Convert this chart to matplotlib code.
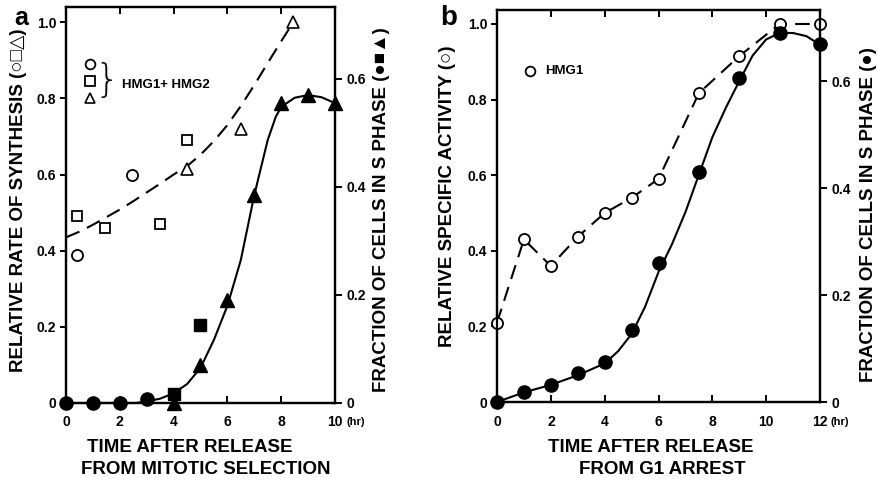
import matplotlib.pyplot as plt

plt.rcParams['font.family'] = ['Liberation Sans', 'DejaVu Sans']
plt.rcParams['font.weight'] = 'bold'

# ---- panel a : HMG1 + HMG2 synthesis after mitotic selection ----
a_circ_x = [0.4, 2.45]
a_circ_y = [0.39, 0.60]
a_sq_x = [0.4, 1.45, 3.5, 4.5]
a_sq_y = [0.49, 0.46, 0.47, 0.69]
a_tri_x = [4.5, 6.5, 8.45]
a_tri_y = [0.615, 0.72, 1.0]
a_fit_x = [0, 0.5, 1, 1.5, 2, 2.5, 3, 3.5, 4, 4.5, 5, 5.5, 6, 6.5, 7, 7.5, 8, 8.45]
a_fit_y = [0.435, 0.45, 0.468, 0.488, 0.508, 0.53, 0.553, 0.576, 0.60, 0.622, 0.652,
           0.688, 0.73, 0.78, 0.835, 0.893, 0.95, 1.0]

# fraction of cells in S phase (right axis)
a_sc_x = [0, 1, 2, 3]
a_sc_y = [0.0, 0.0, 0.0, 0.008]
a_ss_x = [4, 5]
a_ss_y = [0.017, 0.144]
a_st_x = [4, 5, 6, 7, 8, 9, 10]
a_st_y = [0.0, 0.07, 0.19, 0.385, 0.555, 0.57, 0.555]
a_sfit_x = [0, 2.6, 3, 3.5, 4, 4.5, 5, 5.5, 6, 6.5, 7, 7.5, 7.8, 8, 8.5, 9, 9.5, 10]
a_sfit_y = [0, 0, 0.003, 0.008, 0.018, 0.035, 0.065, 0.117, 0.18, 0.265, 0.385, 0.487,
            0.53, 0.548, 0.565, 0.57, 0.566, 0.555]

# ---- panel b : HMG1 after G1 arrest ----
b_t = [0, 1, 2, 3, 4, 5, 6, 7.5, 9, 10.5, 12]
b_hmg1 = [0.21, 0.43, 0.36, 0.437, 0.50, 0.54, 0.59, 0.817, 0.915, 1.0, 1.0]
b_sphase = [0.0, 0.019, 0.032, 0.054, 0.075, 0.135, 0.26, 0.43, 0.605, 0.69, 0.67]
b_sfit_x = [0, 1, 2, 3, 4, 4.5, 5, 5.5, 6, 6.5, 7, 7.5, 8, 8.5, 9, 9.5, 10, 10.5, 11, 11.5, 12]
b_sfit_y = [0, 0.018, 0.032, 0.05, 0.072, 0.095, 0.127, 0.178, 0.243, 0.295, 0.355, 0.425,
            0.495, 0.55, 0.60, 0.648, 0.678, 0.69, 0.69, 0.684, 0.668]

LFS = 13.5   # axis titles
TFS = 10     # tick labels
DASH = (0, (7, 4))
W, H = 878, 482
FAM = ['Liberation Sans', 'DejaVu Sans']

fig = plt.figure(figsize=(8.78, 4.82), dpi=100)


def px_text(x, y, s, **kw):
    # place text by pixel position (from the top-left corner)
    fig.text(x / W, 1 - y / H, s, family=FAM, fontweight='bold', **kw)


def style_axes(ax, ax2, xmax):
    for s in ax.spines.values():
        s.set_linewidth(1.6)
    for s in ax2.spines.values():
        s.set_linewidth(1.6)
    ax.set_xlim(0, xmax)
    ax.set_xticks(range(0, xmax + 1, 2))
    labels = [str(v) for v in range(0, xmax + 1, 2)]
    ax.set_xticklabels(labels, fontsize=TFS, fontweight='bold')
    ax.tick_params(axis='x', direction='in', length=5, width=1.4, top=True, pad=9)
    ax.tick_params(axis='y', direction='out', length=4, width=1.4, pad=3)
    ax2.tick_params(axis='y', direction='out', length=5, width=1.4, pad=3)
    ax.set_yticks([0, 0.2, 0.4, 0.6, 0.8, 1.0])
    ax.set_yticklabels(['0', '0.2', '0.4', '0.6', '0.8', '1.0'], fontsize=TFS, fontweight='bold')
    ax2.set_yticks([0, 0.2, 0.4, 0.6])
    ax2.set_yticklabels(['0', '0.2', '0.4', '0.6'], fontsize=TFS, fontweight='bold')


# panel a
ax = fig.add_axes([66 / W, 1 - 403 / H, 269 / W, 396 / H])
ax2 = ax.twinx()
ax.set_ylim(0, 1.04)
ax2.set_ylim(0, 0.733)
style_axes(ax, ax2, 10)

ax.plot(a_fit_x, a_fit_y, color='black', lw=1.5, linestyle=DASH)
ax.plot(a_circ_x, a_circ_y, 'o', ms=8, mfc='white', mec='black', mew=1.3)
ax.plot(a_sq_x, a_sq_y, 's', ms=7.5, mfc='white', mec='black', mew=1.3)
ax.plot(a_tri_x, a_tri_y, '^', ms=9, mfc='white', mec='black', mew=1.2)

ax2.plot(a_sfit_x, a_sfit_y, color='black', lw=1.5, clip_on=False)
ax2.plot(a_st_x, a_st_y, '^', ms=9.5, color='black', clip_on=False)
ax2.plot(a_sc_x, a_sc_y, 'o', ms=9.5, color='black', clip_on=False)
ax2.plot(a_ss_x, a_ss_y, 's', ms=8.5, color='black', clip_on=False)

# legend a
ax.plot([0.89], [0.89], 'o', ms=7, mfc='white', mec='black', mew=1.3)
ax.plot([0.89], [0.845], 's', ms=6.5, mfc='white', mec='black', mew=1.3)
ax.plot([0.89], [0.80], '^', ms=7.5, mfc='white', mec='black', mew=1.2)
ax.text(1.5, 0.845, '}', fontsize=28, fontweight='light', va='center', ha='center',
        family='DejaVu Sans')
ax.text(2.1, 0.835, 'HMG1+ HMG2', fontsize=9.5, va='center', ha='left', fontweight='bold')

px_text(19, 200, 'RELATIVE RATE OF SYNTHESIS (○□△)', fontsize=LFS, rotation=90,
        ha='center', va='center')
px_text(382, 210, 'FRACTION OF CELLS IN S PHASE (●■▲)', fontsize=LFS, rotation=90,
        ha='center', va='center')
px_text(347, 422, '(hr)', fontsize=8, va='center')
px_text(190, 448, 'TIME AFTER RELEASE', fontsize=LFS, ha='center', va='center')
px_text(206, 470, 'FROM MITOTIC SELECTION', fontsize=LFS, ha='center', va='center')
px_text(21, 18, 'a', fontsize=18, ha='center', va='center')

# panel b
bx = fig.add_axes([497 / W, 1 - 402 / H, 323 / W, 392 / H])
bx2 = bx.twinx()
bx.set_ylim(0, 1.037)
bx2.set_ylim(0, 0.733)
style_axes(bx, bx2, 12)

bx.plot(b_t, b_hmg1, color='black', lw=1.5, linestyle=DASH, clip_on=False)
bx.plot(b_t, b_hmg1, 'o', ms=8, mfc='white', mec='black', mew=1.3, clip_on=False, zorder=4)
bx2.plot(b_sfit_x, b_sfit_y, color='black', lw=1.5, clip_on=False)
bx2.plot(b_t, b_sphase, 'o', ms=9.5, color='black', clip_on=False, zorder=3)

bx.plot([1.23], [0.875], 'o', ms=7, mfc='white', mec='black', mew=1.3)
bx.text(1.8, 0.875, 'HMG1', fontsize=9.5, va='center', ha='left', fontweight='bold')

px_text(448, 196, 'RELATIVE SPECIFIC ACTIVITY (○)', fontsize=LFS, rotation=90,
        ha='center', va='center')
px_text(869, 215, 'FRACTION OF CELLS IN S PHASE (●)', fontsize=LFS, rotation=90,
        ha='center', va='center')
px_text(831, 422, '(hr)', fontsize=8, va='center')
px_text(651, 448, 'TIME AFTER RELEASE', fontsize=LFS, ha='center', va='center')
px_text(662, 470, 'FROM G1 ARREST', fontsize=LFS, ha='center', va='center')
px_text(449, 18, 'b', fontsize=20, ha='center', va='center')

fig.savefig('out.png', dpi=100)
